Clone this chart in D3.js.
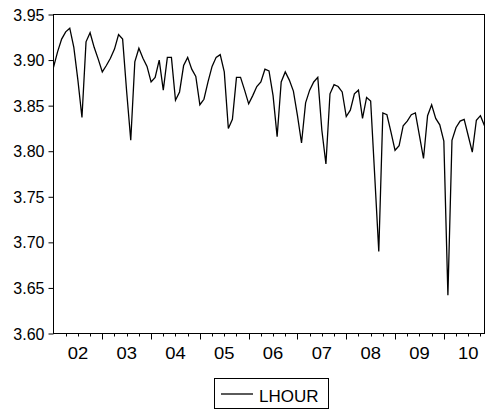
<!DOCTYPE html>
<html>
<head>
<meta charset="utf-8">
<script src="https://cdn.jsdelivr.net/npm/d3@7"></script>
<style>
  body { margin: 0; background: #fff; }
  text { font-family: "Liberation Sans", Arial, sans-serif; fill: #000; }
</style>
</head>
<body>
<div id="chart"></div>
<script>
// monthly observations, 2002M01 .. 2010M11
var startYear = 2002;
var lhour = [
  3.892, 3.909, 3.923, 3.931, 3.935, 3.914, 3.878, 3.837, 3.920, 3.930, 3.914, 3.901,
  3.887, 3.894, 3.902, 3.912, 3.928, 3.923, 3.865, 3.812, 3.898, 3.913, 3.902, 3.893,
  3.876, 3.881, 3.900, 3.867, 3.903, 3.903, 3.856, 3.865, 3.894, 3.903, 3.890, 3.882,
  3.851, 3.857, 3.876, 3.893, 3.903, 3.906, 3.887, 3.825, 3.835, 3.881, 3.881, 3.867,
  3.852, 3.861, 3.871, 3.876, 3.890, 3.888, 3.861, 3.816, 3.876, 3.887, 3.878, 3.866,
  3.839, 3.809, 3.853, 3.867, 3.876, 3.881, 3.823, 3.786, 3.863, 3.873, 3.871, 3.865,
  3.838, 3.845, 3.863, 3.867, 3.836, 3.859, 3.855, 3.773, 3.690, 3.842, 3.840, 3.821,
  3.801, 3.806, 3.828, 3.833, 3.840, 3.842, 3.817, 3.792, 3.839, 3.851, 3.836, 3.829,
  3.811, 3.642, 3.812, 3.826, 3.833, 3.835, 3.817, 3.799, 3.834, 3.839, 3.828
];
var yearLabels = ["02", "03", "04", "05", "06", "07", "08", "09", "10"];
var yTicks = [3.60, 3.65, 3.70, 3.75, 3.80, 3.85, 3.90, 3.95];
var seriesName = "LHOUR";

var width = 485, height = 411;
var plotL = 53.5, plotR = 484.5, plotT = 14.5, plotB = 333.5;

var svg = d3.select("#chart").append("svg")
  .attr("width", width)
  .attr("height", height);

var x = d3.scaleLinear().domain([0, lhour.length - 1]).range([plotL, plotR]);
var y = d3.scaleLinear().domain([3.60, 3.95]).range([plotB, plotT]);

// frame
svg.append("rect")
  .attr("x", plotL).attr("y", plotT)
  .attr("width", plotR - plotL).attr("height", plotB - plotT)
  .attr("fill", "none").attr("stroke", "#000").attr("stroke-width", 1);

// y axis
var yAxis = d3.axisLeft(y).tickValues(yTicks).tickFormat(d3.format(".2f")).tickSize(5).tickSizeOuter(0);
var gy = svg.append("g").attr("transform", "translate(" + plotL + ",0)").call(yAxis);
gy.select(".domain").remove();
gy.selectAll("line").attr("stroke", "#000");
gy.selectAll("text")
  .attr("font-size", "16px")
  .attr("x", -9)
  .attr("dy", "0.35em")
  .style("font-family", "'Liberation Sans', Arial, sans-serif");

// x axis: quarterly minor ticks, yearly major ticks
var quarters = d3.range(3, lhour.length, 3).filter(function(i) { return i % 12 !== 0; });
var years = d3.range(12, lhour.length, 12);

svg.append("g").selectAll("line.minor")
  .data(quarters).enter().append("line")
  .attr("x1", function(d) { return Math.round(x(d)) + 0.5; })
  .attr("x2", function(d) { return Math.round(x(d)) + 0.5; })
  .attr("y1", plotB).attr("y2", plotB + 3)
  .attr("stroke", "#000").attr("stroke-width", 1);

svg.append("g").selectAll("line.major")
  .data(years).enter().append("line")
  .attr("x1", function(d) { return Math.round(x(d)) + 0.5; })
  .attr("x2", function(d) { return Math.round(x(d)) + 0.5; })
  .attr("y1", plotB).attr("y2", plotB + 6)
  .attr("stroke", "#000").attr("stroke-width", 1);

svg.append("g").selectAll("text")
  .data(yearLabels).enter().append("text")
  .attr("transform", function(d, i) { return "translate(" + x(i * 12 + 6) + ",358.5) scale(1.15,1)"; })
  .attr("text-anchor", "middle")
  .attr("font-size", "16px")
  .text(function(d) { return d; });

// series line
var line = d3.line()
  .x(function(d, i) { return x(i); })
  .y(function(d) { return y(d); });

svg.append("path")
  .datum(lhour)
  .attr("d", line)
  .attr("fill", "none")
  .attr("stroke", "#000")
  .attr("stroke-width", 1.3)
  .attr("stroke-linejoin", "miter");

// legend
var lg = svg.append("g");
lg.append("rect")
  .attr("x", 214.5).attr("y", 378.5)
  .attr("width", 114).attr("height", 30)
  .attr("fill", "#fff").attr("stroke", "#000").attr("stroke-width", 1);
lg.append("line")
  .attr("x1", 221).attr("x2", 253)
  .attr("y1", 394).attr("y2", 394)
  .attr("stroke", "#000").attr("stroke-width", 1.3);
lg.append("text")
  .attr("x", 259).attr("y", 401.5)
  .attr("font-size", "17px")
  .text(seriesName);
</script>
</body>
</html>
